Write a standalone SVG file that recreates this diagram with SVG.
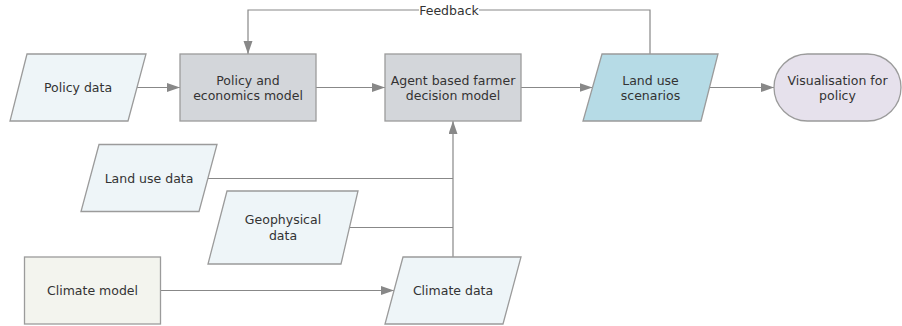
<svg xmlns="http://www.w3.org/2000/svg" width="902" height="326" viewBox="0 0 902 326">
<defs>
<style>
.n{stroke:#9b9b9b;stroke-width:1.3}
.proc{fill:#d3d6da}
.data{fill:#eef5f8}
.out{fill:#b6dbe6}
.term{fill:#e6e1ec}
.clim{fill:#f3f4ee}
.e{fill:none;stroke:#888;stroke-width:1.2}
text{font-family:"DejaVu Sans","Verdana",sans-serif;font-size:12.5px;fill:#333;text-anchor:middle}
</style>
<marker id="ah" markerUnits="userSpaceOnUse" markerWidth="14" markerHeight="10" refX="13" refY="4.5" orient="auto">
<path d="M0,0 L13,4.5 L0,9 z" fill="#888"/>
</marker>
</defs>
<rect width="902" height="326" fill="#fff"/>
<g id="connectors">
<path class="e" d="M137,87.5 H180" marker-end="url(#ah)"/>
<path class="e" d="M316,87.5 H385" marker-end="url(#ah)"/>
<path class="e" d="M521,87.5 H592.5" marker-end="url(#ah)"/>
<path class="e" d="M709.5,87.5 H774" marker-end="url(#ah)"/>
<path class="e" d="M160,290.5 H394" marker-end="url(#ah)"/>
<path class="e" d="M453,257 V121" marker-end="url(#ah)"/>
<path class="e" d="M208,178.5 H453"/>
<path class="e" d="M349.5,227.5 H453"/>
<path class="e" d="M650,54 V10 H248 V54" marker-end="url(#ah)"/>
<rect x="419" y="3" width="60" height="14" fill="#fff"/>
<text x="449" y="14.5">Feedback</text>
</g>
<g id="policy-data">
<polygon class="n data" points="27,54 146,54 128,121 10,121"/>
<text x="78" y="92">Policy data</text>
</g>
<g id="policy-econ">
<rect class="n proc" x="180" y="54" width="136" height="67"/>
<text x="248" y="84.5">Policy and</text>
<text x="248" y="100">economics model</text>
</g>
<g id="agent">
<rect class="n proc" x="385" y="54" width="136" height="67"/>
<text x="453" y="84.5">Agent based farmer</text>
<text x="453" y="100">decision model</text>
</g>
<g id="land-use-scenarios">
<polygon class="n out" points="602,54 718,54 701,121 583,121"/>
<text x="650.5" y="84.5">Land use</text>
<text x="650.5" y="100">scenarios</text>
</g>
<g id="visualisation">
<rect class="n term" x="774" y="54" width="127" height="67" rx="33.5" ry="33.5"/>
<text x="837.5" y="84.5">Visualisation for</text>
<text x="837.5" y="100">policy</text>
</g>
<g id="land-use-data">
<polygon class="n data" points="99,144.5 217,144.5 199,211.5 81,211.5"/>
<text x="149" y="182.5">Land use data</text>
</g>
<g id="geophysical-data">
<polygon class="n data" points="227,191 358,191 341,264 208,264"/>
<text x="283" y="224">Geophysical</text>
<text x="283" y="239.5">data</text>
</g>
<g id="climate-model">
<rect class="n clim" x="24.5" y="257" width="136" height="67"/>
<text x="92.5" y="295">Climate model</text>
</g>
<g id="climate-data">
<polygon class="n data" points="403,257 521,257 503,324 385,324"/>
<text x="453" y="295">Climate data</text>
</g>
</svg>
